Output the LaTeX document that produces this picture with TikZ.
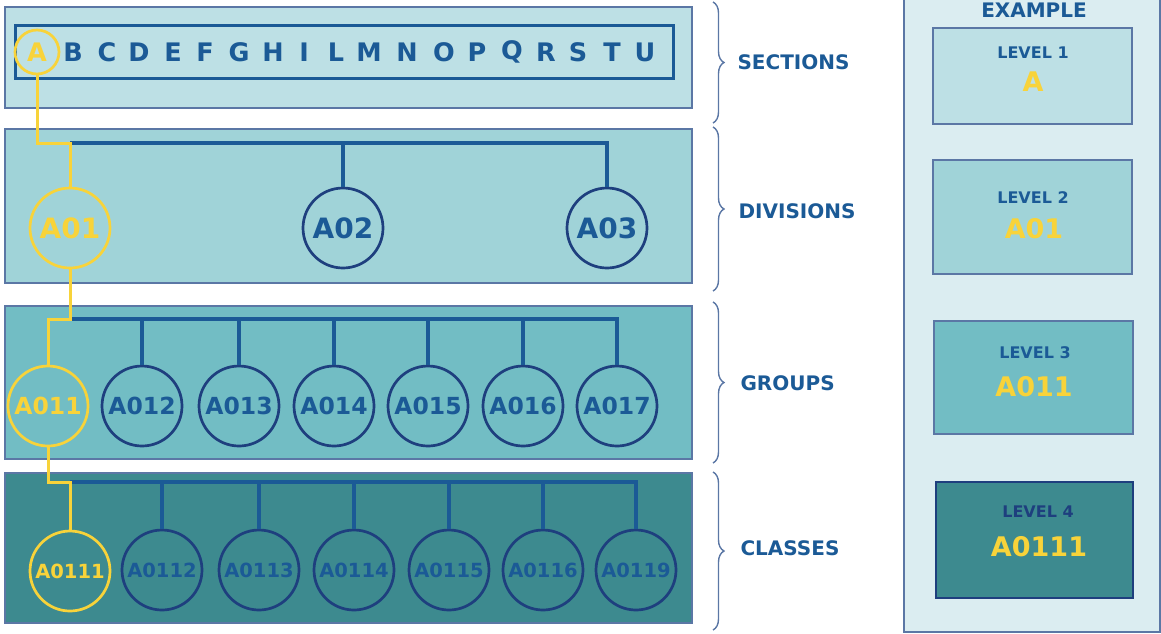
\documentclass[tikz,border=0pt]{standalone}
\usepackage{fontspec}
\setmainfont{DejaVu Sans}
\usetikzlibrary{decorations.pathreplacing}

\definecolor{bandA}{HTML}{BDE0E5}
\definecolor{bandB}{HTML}{A0D3D8}
\definecolor{bandC}{HTML}{72BDC4}
\definecolor{bandD}{HTML}{3D8A8F}
\definecolor{edge}{HTML}{5B77A5}
\definecolor{navy}{HTML}{1B5A96}
\definecolor{ring}{HTML}{1E3F7E}
\definecolor{gold}{HTML}{F8D33A}
\definecolor{panel}{HTML}{DBEDF1}

\begin{document}
\begin{tikzpicture}[x=1pt, y=-1pt,
  band/.style={draw=edge, line width=1.2pt},
  sz/.style={font=\bfseries\fontsize{#1}{#1}\selectfont},
  code/.style={circle, draw=ring, line width=2.7pt, minimum size=80pt, inner sep=0pt, text=navy, sz=#1},
  code/.default=23.5,
  hit/.style={draw=gold, text=gold},
  tree/.style={draw=navy, line width=3.2pt},
  hl/.style={draw=gold, line width=3pt},
  brace/.style={draw=edge, line width=1.4pt, decorate, decoration={brace, amplitude=11pt}},
  tier/.style={anchor=west, text=navy, sz=20}]
\useasboundingbox (0,0) rectangle (1161,633);

% bands
\draw[band, fill=bandA] (5,7) rectangle (692,108);
\draw[band, fill=bandB] (5,129) rectangle (692,283);
\draw[band, fill=bandC] (5,306) rectangle (692,459);
\draw[band, fill=bandD] (5,473) rectangle (692,623);
\draw[navy, line width=3pt] (15,25) rectangle (673,78);

% sections
\node[circle, hit, line width=2.7pt, minimum size=44pt, inner sep=0pt, sz=25.5] (lA) at (37,52) {A};
\foreach \c/\x in {B/73,C/107,D/139,E/173,F/205,G/239,H/273,I/304,L/336,M/369,N/407,O/444,P/477,Q/512,R/546,S/578,T/612,U/645}
  \node[text=navy, sz=25.5] (l\c) at (\x,52) {\c};

% divisions
\node[code=28, hit] (div-1) at (70,228) {A01};
\node[code=28] (div-2) at (343,228) {A02};
\node[code=28] (div-3) at (607,228) {A03};
\coordinate (dbar) at (70,143);
\draw[tree] (dbar) -| (div-3.north);
\draw[tree] (div-2.north) -- (div-2.north |- dbar);

% groups
\node[code, hit] (grp-1) at (48,406) {A011};
\foreach \i/\x in {2/142,3/239,4/334,5/428,6/523,7/617}
  \node[code] (grp-\i) at (\x,406) {A01\i};
\coordinate (gbar) at (70,319);
\draw[tree] (gbar) -| (grp-7.north);
\foreach \i in {2,...,6}
  \draw[tree] (grp-\i.north) -- (grp-\i.north |- gbar);

% classes
\node[code=19.5, hit] (cls-1) at (70,571) {A0111};
\foreach \i/\n/\x in {2/2/162,3/3/259,4/4/354,5/5/449,6/6/543,7/9/636}
  \node[code=19.5] (cls-\i) at (\x,570) {A011\n};
\coordinate (cbar) at (70,482);
\draw[tree] (cbar) -| (cls-7.north);
\foreach \i in {2,...,6}
  \draw[tree] (cls-\i.north) -- (cls-\i.north |- cbar);

% highlighted path
\draw[hl] (lA.south) |- (dbar) -- (div-1.north);
\draw[hl] (div-1.south) |- (grp-1.north |- gbar) -- (grp-1.north);
\draw[hl] (grp-1.south) |- (cbar) -- (cls-1.north);

% braces and names
\draw[brace] (713,2) -- (713,123);
\draw[brace] (713,127) -- (713,291);
\draw[brace] (713,302) -- (713,463);
\draw[brace] (713,472) -- (713,630);
\node[tier] (secs) at (734,62) {SECTIONS};
\node[tier] (divs) at (735,211) {DIVISIONS};
\node[tier] (grps) at (737,383) {GROUPS};
\node[tier] (clss) at (737,548) {CLASSES};

% example
\draw[band, fill=panel] (904,-2) rectangle (1160,632);
\node[text=navy, sz=20] (ex) at (1034,10) {EXAMPLE};
\draw[band, fill=bandA] (933,28) rectangle (1132,124);
\draw[band, fill=bandB] (933,160) rectangle (1132,274);
\draw[band, fill=bandC] (934,321) rectangle (1133,434);
\draw[band, fill=bandD, draw=ring] (936,482) rectangle (1133,598);
\node[text=navy, sz=16] (lv1) at (1033,53) {LEVEL 1};
\node[text=gold, sz=27] (ex1) at (1033,82) {A};
\node[text=navy, sz=16] (lv2) at (1033,198) {LEVEL 2};
\node[text=gold, sz=27] (ex2) at (1034,229) {A01};
\node[text=navy, sz=16] (lv3) at (1035,353) {LEVEL 3};
\node[text=gold, sz=27] (ex3) at (1034,387) {A011};
\node[text=ring, sz=16] (lv4) at (1038,512) {LEVEL 4};
\node[text=gold, sz=27] (ex4) at (1039,547) {A0111};
\end{tikzpicture}
\end{document}
